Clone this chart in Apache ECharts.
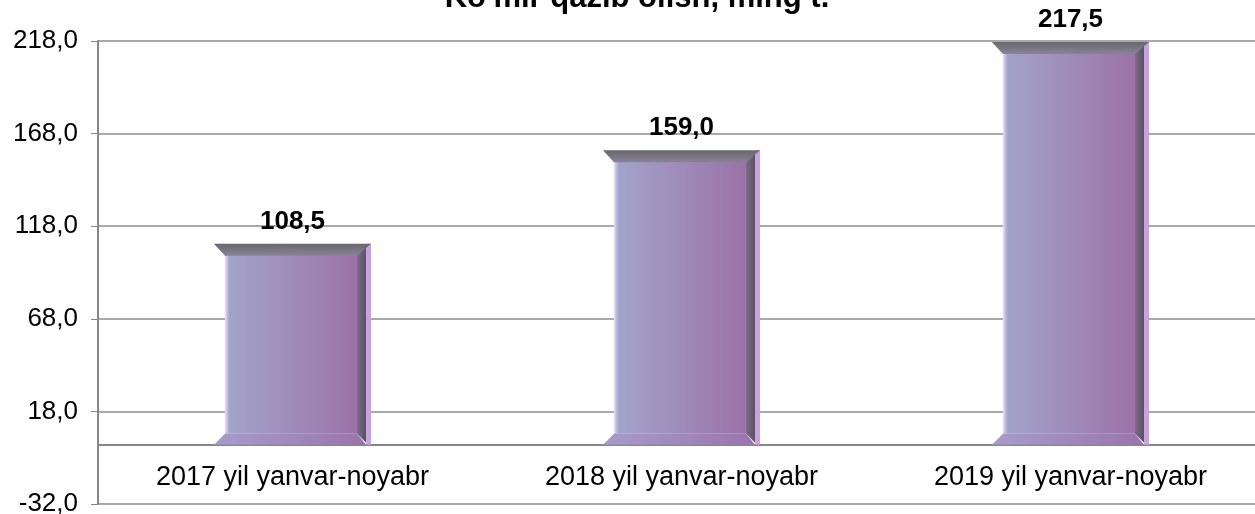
<!DOCTYPE html>
<html>
<head>
<meta charset="utf-8">
<script src="https://cdn.jsdelivr.net/npm/echarts@6/dist/echarts.min.js"></script>
<style>
  html, body { margin: 0; padding: 0; background: #fff; }
  #chart { width: 1255px; height: 514px; }
</style>
</head>
<body>
<div id="chart"></div>
<script>
// data
const titleText = "Ko'mir qazib olish, ming t."
const categories = ['2017 yil yanvar-noyabr', '2018 yil yanvar-noyabr', '2019 yil yanvar-noyabr']
const values = [108.5, 159.0, 217.5]

const fmt = (v) => Number(v).toFixed(1).replace('.', ',')

// bevelled bar
const renderBar = (params, api) => {
    const top = api.coord([api.value(0), api.value(1)])
    const base = api.coord([api.value(0), 0])
    const bw = api.size([1, 0])[0] * 0.404
    const x0 = top[0] - bw / 2
    const x1 = top[0] + bw / 2
    const yT = top[1]
    const yB = base[1]
    const b = 11
    const s = 5
    const grad = (a, c, horiz) => new echarts.graphic.LinearGradient(0, 0, horiz ? 1 : 0, horiz ? 0 : 1, [
        { offset: 0, color: a }, { offset: 1, color: c }
    ])
    return {
        type: 'group',
        children: [
            {
                type: 'rect',
                shape: { x: x0 + b, y: yT + b, width: x1 - s - x0 - b, height: yB - yT - 2 * b },
                style: { fill: grad('#a3a5cb', '#9b6ea5', true) }
            },
            {
                type: 'rect',
                shape: { x: x0 + b, y: yT + b, width: 5, height: yB - yT - 2 * b },
                style: { fill: grad('#ece6ff', 'rgba(200,195,235,0)', true) }
            },
            {
                type: 'polygon',
                shape: { points: [[x1 - s - 9, yT + b], [x1 - s, yT + 2], [x1 - s, yB - 2], [x1 - s - 9, yB - b]] },
                style: { fill: grad('#7a6e86', '#5a4f66', true) }
            },
            {
                type: 'rect',
                shape: { x: x1 - s, y: yT, width: s, height: yB - yT },
                style: { fill: '#c7a3db' }
            },
            {
                type: 'polygon',
                shape: { points: [[x0, yB], [x1 - s, yB], [x1 - s - 9, yB - b], [x0 + b, yB - b]] },
                style: { fill: grad('#a79ccb', '#9a74ac', true) }
            },
            {
                type: 'polygon',
                shape: { points: [[x0, yT], [x1, yT], [x1 - s - 9, yT + b + 1], [x0 + b, yT + b + 1]] },
                style: { fill: grad('#66676a', '#8a8398', false) }
            },
            {
                type: 'text',
                x: top[0],
                y: yT - 9,
                style: {
                    text: fmt(api.value(1)),
                    fill: '#000',
                    font: 'bold 26px "Liberation Sans", Arial, sans-serif',
                    align: 'center',
                    verticalAlign: 'bottom'
                }
            }
        ]
    }
}

const chart = echarts.init(document.getElementById('chart'))
chart.setOption({
    animation: false,
    textStyle: { fontFamily: '"Liberation Sans", Arial, sans-serif' },
    title: {
        text: titleText,
        left: 632,
        textAlign: 'center',
        top: -22,
        textStyle: { fontSize: 31, fontWeight: 'bold', color: '#000' }
    },
    grid: { left: 98, right: -10, top: 41, bottom: 10, containLabel: false, outerBoundsMode: 'none' },
    xAxis: {
        type: 'category',
        data: categories,
        // axis sits on the zero line, 32 units above the grid bottom
        offset: -59,
        axisLine: { onZero: false, lineStyle: { color: '#868686', width: 2 } },
        axisTick: { length: 8, lineStyle: { color: '#868686' } },
        axisLabel: { color: '#000', fontSize: 27, margin: 19 }
    },
    yAxis: {
        type: 'value',
        min: -32,
        max: 218,
        interval: 50,
        axisLine: { show: true, lineStyle: { color: '#868686', width: 2 } },
        axisTick: { show: true, length: 7, lineStyle: { color: '#868686' } },
        axisLabel: { color: '#000', fontSize: 26, margin: 20, formatter: fmt },
        splitLine: { lineStyle: { color: '#8c8c8c', width: 1.5 } }
    },
    series: [
        {
            type: 'custom',
            renderItem: renderBar,
            encode: { x: 0, y: 1 },
            data: values.map((v, i) => [i, v])
        }
    ]
})
</script>
</body>
</html>
